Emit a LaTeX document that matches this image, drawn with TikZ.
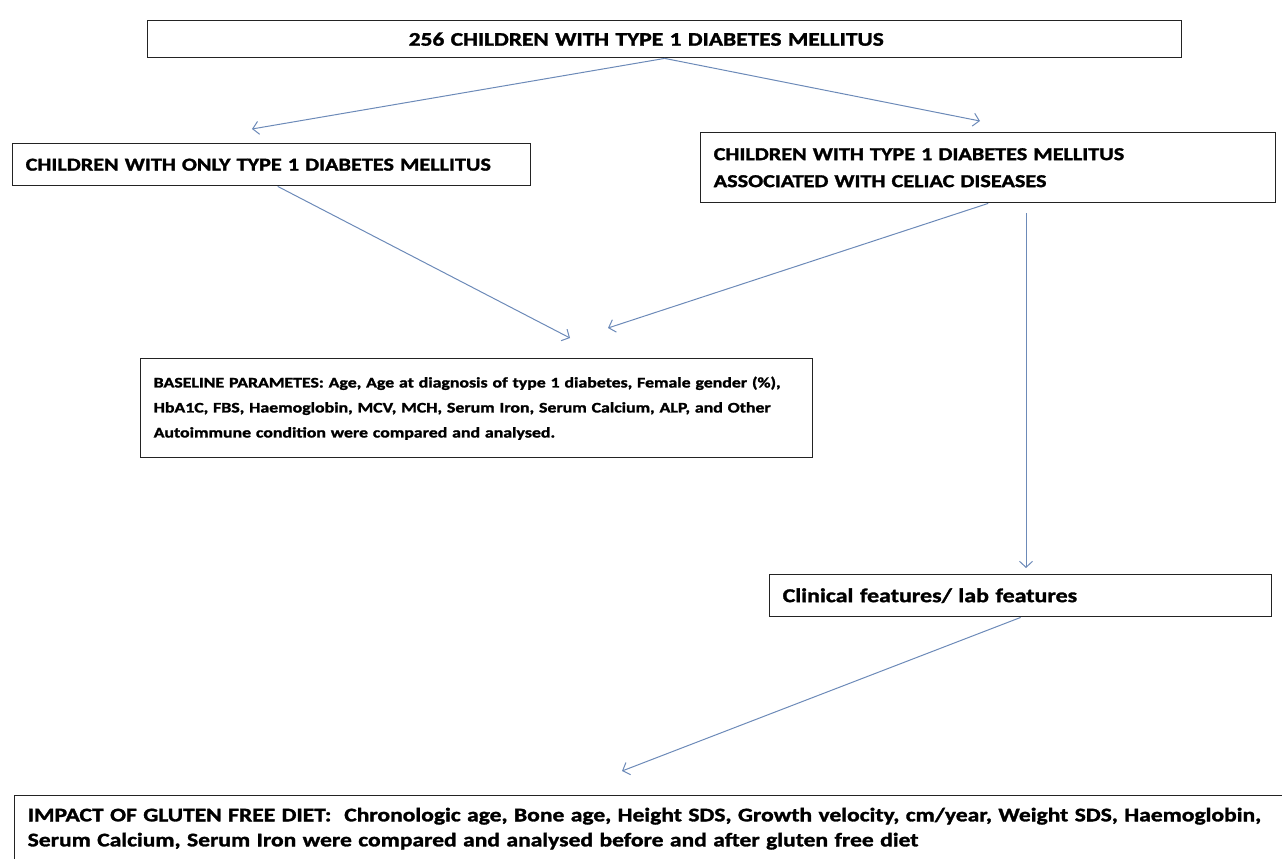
\documentclass[tikz,border=0pt]{standalone}
\usepackage{fontspec}
\setmainfont{Carlito}[FakeStretch=1.22, BoldFeatures={FakeBold=1.6}]
\usetikzlibrary{arrows.meta}
\definecolor{arrowblue}{RGB}{108,138,184}
\definecolor{boxline}{RGB}{35,35,35}
\begin{document}
\begin{tikzpicture}[x=1pt,y=-1pt,
  box/.style={draw=boxline, line width=1.4pt, rectangle, inner xsep=13pt, inner ysep=0pt,
              align=left, anchor=north west},
  conn/.style={draw=arrowblue, line width=1pt,
              -{Straight Barb[length=6pt,width=13pt,line width=1pt]}},
  capsfont/.style={font=\bfseries\fontsize{18.2}{27}\selectfont},
]
\useasboundingbox (0,0) rectangle (1282,859);
\clip (0,0) rectangle (1282,859);

\node[box, minimum width=1034pt, minimum height=37pt, text width=1008pt,
      font=\bfseries\fontsize{19.2}{24}\selectfont] (top) at (147,20)
      {\hspace*{248pt}256 CHILDREN WITH TYPE 1 DIABETES MELLITUS};

\node[box, capsfont, minimum width=518pt, minimum height=42pt, text width=492pt] (only) at (12,143)
      {CHILDREN WITH ONLY TYPE 1 DIABETES MELLITUS};

\node[box, capsfont, minimum width=575pt, minimum height=70pt, text width=549pt] (celiac) at (700,132)
      {\mbox{CHILDREN WITH TYPE 1 DIABETES MELLITUS}\\\mbox{ASSOCIATED WITH CELIAC DISEASES}};

\node[box, minimum width=672pt, minimum height=99pt, text width=646pt,
      font=\bfseries\fontsize{14.6}{25}\selectfont] (base) at (140,358)
      {\mbox{BASELINE PARAMETES: Age, Age at diagnosis of type 1 diabetes, Female gender (\%),}\\
       \mbox{HbA1C, FBS, Haemoglobin, MCV, MCH, Serum Iron, Serum Calcium, ALP, and Other}\\
       \mbox{Autoimmune condition were compared and analysed.}};

\node[box, minimum width=502pt, minimum height=42pt, text width=476pt,
      font=\bfseries\fontsize{19.6}{25}\selectfont] (clin) at (769,574)
      {Clinical features/ lab features};

\node[box, minimum width=1300pt, minimum height=66pt, text width=1274pt,
      font=\bfseries\fontsize{19.3}{25}\selectfont] (gfd) at (14,795)
      {\mbox{IMPACT OF GLUTEN FREE DIET:\ \ Chronologic age, Bone age, Height SDS, Growth velocity, cm/year, Weight SDS, Haemoglobin,}\\
       \mbox{Serum Calcium, Serum Iron were compared and analysed before and after gluten free diet}};

\coordinate (t1) at (252,129);
\coordinate (t2) at (980,121);
\coordinate (b1) at (570,338);
\coordinate (b2) at (608,328);
\coordinate (v1) at (1026,213);
\coordinate (v2) at (1026,568);
\coordinate (g1) at (622,771);

\draw[conn] (top.south) -- (t1);
\draw[conn] (top.south) -- (t2);
\draw[conn] ([xshift=6pt]only.south) -- (b1);
\draw[conn] (celiac.south) -- (b2);
\draw[conn] (v1) -- (v2);
\draw[conn] (clin.south) -- (g1);
\end{tikzpicture}
\end{document}
